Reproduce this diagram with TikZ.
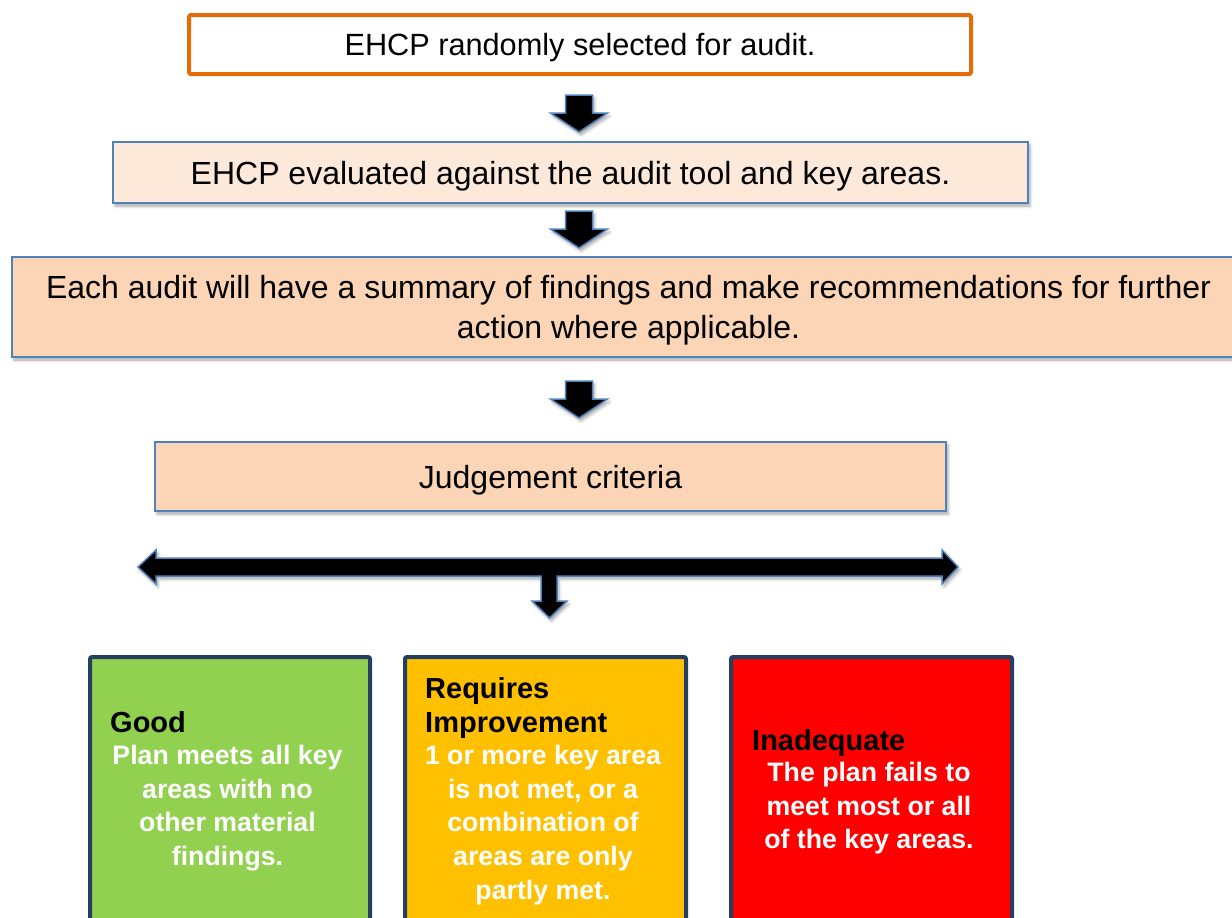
\documentclass[tikz,border=0pt]{standalone}
\usepackage{fontspec}
\setmainfont{Liberation Sans}
\usetikzlibrary{shadows.blur,calc}

\definecolor{ehcporange}{HTML}{E46C0A}
\definecolor{frameblue}{HTML}{4F81BD}
\definecolor{peachlight}{HTML}{FDE9D9}
\definecolor{peach}{HTML}{FBD5B5}
\definecolor{navyframe}{HTML}{243F60}
\definecolor{goodgreen}{HTML}{92D050}
\definecolor{amber}{HTML}{FFC000}
\definecolor{alertred}{HTML}{FF0000}

\tikzset{
  softshadow/.style={blur shadow={shadow xshift=2pt, shadow yshift=-3pt,
      shadow blur radius=3pt, shadow opacity=35}},
  bodytext/.style={font=\fontsize{32}{40}\selectfont, text depth=0pt},
  stagebox/.style={draw=frameblue, line width=1.5pt, fill=peach, softshadow,
      inner sep=0pt, bodytext, align=center},
  ratingbox/.style={draw=navyframe, line width=4pt, rounded corners=2pt, inner sep=0pt},
  ratinghead/.style={font=\fontsize{29}{34}\selectfont\bfseries, text=black,
      inner sep=0pt, align=left},
  ratingtext/.style={font=\fontsize{26.7}{33.7}\selectfont\bfseries, text=white,
      inner sep=0pt, align=center},
  blockarrow/.style={fill=black, draw=frameblue, line width=1.5pt,
      line join=miter, softshadow},
  downarrow/.pic={
    \path[blockarrow] (-13.5,0) -- (13.5,0) -- (13.5,18) -- (28.5,18) -- (0,37)
      -- (-28.5,18) -- (-13.5,18) -- cycle;
  }
}

\begin{document}
\begin{tikzpicture}[x=1pt, y=-1pt]
  \useasboundingbox (0,0) rectangle (1232,918);
  \clip (0,0) rectangle (1232,918);

  % process stages
  \node[draw=ehcporange, line width=4pt, rounded corners=2pt, fill=white,
        minimum width=782pt, minimum height=59pt, inner sep=0pt, bodytext,
        font=\fontsize{30.7}{38}\selectfont]
    (top) at (580,44.5) {EHCP randomly selected for audit.};
  \node[stagebox, fill=peachlight, minimum width=915pt, minimum height=61pt]
    (eval) at (570.5,172.5) {EHCP evaluated against the audit tool and key areas.};
  \node[stagebox, minimum width=1233pt, minimum height=100pt]
    (summary) at (628.5,307)
    {Each audit will have a summary of findings and make recommendations for further\\
     action where applicable.};
  \node[stagebox, minimum width=791pt, minimum height=69pt]
    (judge) at (550.5,476.5) {Judgement criteria};

  % block arrows between the stages
  \pic at (579,95) {downarrow};
  \pic at (579,211) {downarrow};
  \pic at (579,381) {downarrow};

  % spread of outcomes
  \path[blockarrow] (138,567) -- (156,550) -- (156,558) -- (942,558) -- (942,550)
    -- (958,567) -- (942,584) -- (942,576) -- (557,576) -- (557,601) -- (567,601)
    -- (549.5,618) -- (532,601) -- (541,601) -- (541,576) -- (156,576)
    -- (156,584) -- cycle;

  % rating boxes
  \node[ratingbox, fill=goodgreen, minimum width=280pt, minimum height=300pt,
        anchor=north west] (good) at (88,655) {};
  \node[ratingbox, fill=amber, minimum width=281pt, minimum height=300pt,
        anchor=north west] (reqimp) at (403,655) {};
  \node[ratingbox, fill=alertred, minimum width=281pt, minimum height=300pt,
        anchor=north west] (inad) at (729,655) {};

  \node[ratinghead, anchor=base west] (goodhead) at (110,732) {Good};
  \node[ratingtext, anchor=north] (goodtext) at (227.5,745)
    {Plan meets all key\\ areas with no\\ other material\\ findings.};

  \node[ratinghead, anchor=base west] (reqhead) at (425,732)
    {Requires\\ Improvement};
  \node[ratingtext, anchor=north] (reqtext) at (543,745)
    {1 or more key area\\ is not met, or a\\ combination of\\ areas are only\\ partly met.};

  \node[ratinghead, anchor=base west] (inadhead) at (752,750) {Inadequate};
  \node[ratingtext, anchor=north] (inadtext) at (869,762)
    {The plan fails to\\ meet most or all\\ of the key areas.};
\end{tikzpicture}
\end{document}
